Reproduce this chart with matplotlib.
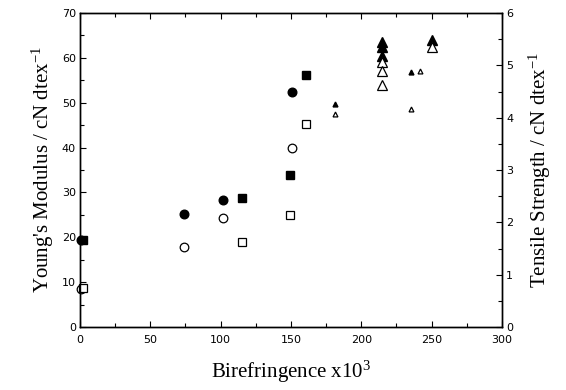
import matplotlib
matplotlib.use('Agg')
import matplotlib.pyplot as plt
from matplotlib.ticker import MultipleLocator

plt.rcParams['mathtext.fontset'] = 'custom'
plt.rcParams['mathtext.rm'] = 'Liberation Serif'
plt.rcParams['mathtext.it'] = 'Liberation Serif:italic'

# Young's modulus (left axis, filled markers)
circ_x = [1, 74, 102, 151]
circ_mod = [19.4, 25.3, 28.3, 52.4]
sq_x = [2, 115, 149, 161]
sq_mod = [19.4, 28.8, 34.0, 56.2]
tri_x = [215, 215, 215, 250]
tri_mod = [63.5, 62.5, 60.5, 64.0]
stri_x = [181, 235]
stri_mod = [49.7, 56.8]

# Tensile strength (right axis, open markers)
circ_ts = [0.73, 1.52, 2.09, 3.43]
sq_ts = [0.75, 1.62, 2.14, 3.88]
tri_ts = [5.06, 4.89, 4.63, 5.36]
stri_x2 = [181, 235, 242]
stri_ts = [4.07, 4.17, 4.90]

fig = plt.figure(figsize=(5.66, 3.9), dpi=100)
ax = fig.add_axes([0.1413, 0.1615, 0.7456, 0.805])
ax2 = ax.twinx()

ax.plot(circ_x, circ_mod, 'o', color='black', ms=6.2, zorder=3, clip_on=False)
ax.plot(sq_x, sq_mod, 's', color='black', ms=5.5, zorder=3, clip_on=False)
ax.plot(tri_x, tri_mod, '^', color='black', ms=7.5, zorder=3)
ax.plot(stri_x, stri_mod, '^', color='black', ms=3.5, zorder=3)

ax2.plot(circ_x, circ_ts, 'o', mfc='white', mec='black', mew=0.9, ms=6.2, clip_on=False)
ax2.plot(sq_x, sq_ts, 's', mfc='white', mec='black', mew=0.9, ms=5.5, clip_on=False)
ax2.plot(tri_x, tri_ts, '^', mfc='white', mec='black', mew=0.9, ms=7.5)
ax2.plot(stri_x2, stri_ts, '^', mfc='white', mec='black', mew=0.9, ms=3.5)

ax.set_xlim(0, 300)
ax.set_ylim(0, 70)
ax2.set_ylim(0, 6)

ax.xaxis.set_major_locator(MultipleLocator(50))
ax.xaxis.set_minor_locator(MultipleLocator(25))
ax.yaxis.set_major_locator(MultipleLocator(10))
ax.yaxis.set_minor_locator(MultipleLocator(5))
ax2.yaxis.set_major_locator(MultipleLocator(1))
ax2.yaxis.set_minor_locator(MultipleLocator(0.5))

for a in (ax, ax2):
    a.tick_params(which='both', direction='in', labelsize=8, width=0.8, pad=3)
    a.tick_params(which='major', length=4)
    a.tick_params(which='minor', length=3)
    for s in a.spines.values():
        s.set_linewidth(1.0)
ax.tick_params(which='both', top=True)
ax.tick_params(axis='x', pad=6)
ax.tick_params(axis='y', which='both', right=False)

ax.set_xlabel(r"Birefringence x10$^{3}$", family='Liberation Serif', fontsize=15, labelpad=10)
ax.set_ylabel(r"Young's Modulus / cN dtex$^{-1}$", family='Liberation Serif', fontsize=15, labelpad=4)
ax2.set_ylabel(r"Tensile Strength / cN dtex$^{-1}$", family='Liberation Serif', fontsize=15, labelpad=10)

fig.savefig('out.png', dpi=100)
